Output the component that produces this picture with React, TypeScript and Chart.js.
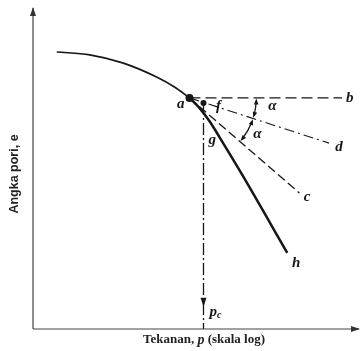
import React, { useEffect, useRef } from "react";
import { Chart, registerables } from "chart.js";

Chart.register(...registerables);

// e - log p curve (x: log pressure, y: void ratio), schematic units 0..100
// upper (recompression) part up to point a, then steeper virgin part to h
const upperX = [7.3, 17.4, 27.5, 37.9, 43.4, 48.0];
const upperY = [86.3, 85.4, 82.9, 78.5, 75.4, 72.0];
const lowerX = [48.0, 51.1, 54.1, 57.2, 64.2, 78.0];
const lowerY = [72.0, 68.8, 64.8, 59.8, 48.0, 23.7];

// construction points
const pointA = { x: 48.0, y: 72.0 };
const pointF = { x: 52.3, y: 70.4 };
const pointB = { x: 94.8, y: 72.0 };
const pointD = { x: 90.8, y: 57.9 };
const pointC = { x: 81.7, y: 42.4 };
const pcX = 52.3;
const pcArrowY = 6.9;
const arcOnAbX = 68.5;

// text labels
const labelText = ["a", "b", "c", "d", "f", "g", "h", "α", "α"];
const labelX = [45.3, 97.2, 84.1, 93.9, 56.9, 55.0, 80.7, 73.4, 68.8];
const labelY = [70.1, 72.0, 41.1, 56.7, 69.5, 58.9, 20.6, 69.5, 60.7];
const pcLabel = { x: 55.7, y: 5.3 };

const xTitleParts = ["Tekanan, ", "p", " (skala log)"];
const yTitle = "Angka pori, e";

const INK = "#161616";

function arrowHead(ctx: CanvasRenderingContext2D, x: number, y: number, angle: number, len: number, wid: number) {
  ctx.save();
  ctx.translate(x, y);
  ctx.rotate(angle);
  ctx.beginPath();
  ctx.moveTo(0, 0);
  ctx.lineTo(-len, -wid / 2);
  ctx.lineTo(-len, wid / 2);
  ctx.closePath();
  ctx.fill();
  ctx.restore();
}

const decor = {
  id: "decor",
  afterDatasetsDraw(chart: any) {
    const ctx: CanvasRenderingContext2D = chart.ctx;
    const xs = chart.scales.x;
    const ys = chart.scales.y;
    const px = (v: number) => xs.getPixelForValue(v);
    const py = (v: number) => ys.getPixelForValue(v);
    ctx.save();
    ctx.fillStyle = INK;
    ctx.strokeStyle = INK;

    // axis arrows
    ctx.fillStyle = "#333";
    arrowHead(ctx, px(100) + 1, py(0), 0, 9, 6);
    arrowHead(ctx, px(0), py(100) - 1, -Math.PI / 2, 9, 6);
    ctx.fillStyle = INK;
    // pc arrow
    arrowHead(ctx, px(pcX), py(pcArrowY), Math.PI / 2, 9, 6);

    // angle arcs
    const ax = px(pointA.x), ay = py(pointA.y);
    const r = px(arcOnAbX) - ax;
    const thD = Math.atan2(py(pointD.y) - ay, px(pointD.x) - ax);
    const thC = Math.atan2(py(pointC.y) - ay, px(pointC.x) - ax);
    ctx.lineWidth = 1.3;
    ctx.setLineDash([]);
    const gap = 0.05;
    ctx.beginPath();
    ctx.arc(ax, ay, r, 0 + gap, thD - gap);
    ctx.stroke();
    ctx.beginPath();
    ctx.arc(ax, ay, r, thD + gap, thC - gap);
    ctx.stroke();
    const tip = (th: number, dir: number) => {
      const x = ax + r * Math.cos(th);
      const y = ay + r * Math.sin(th);
      const ang = th + (dir > 0 ? Math.PI / 2 : -Math.PI / 2);
      arrowHead(ctx, x, y, ang, 6, 4.5);
    };
    tip(0.01, -1);
    tip(thD - 0.01, 1);
    tip(thD + 0.01, -1);
    tip(thC - 0.01, 1);

    // letters
    ctx.textAlign = "center";
    ctx.textBaseline = "middle";
    ctx.font = "italic bold 15px 'Liberation Serif'";
    for (let i = 0; i < labelText.length; i++) {
      ctx.fillText(labelText[i], px(labelX[i]), py(labelY[i]));
    }
    // p_c
    ctx.textAlign = "left";
    ctx.font = "italic bold 15px 'Liberation Serif'";
    const pxp = px(pcLabel.x) - 5;
    ctx.fillText("p", pxp, py(pcLabel.y));
    const wp = ctx.measureText("p").width;
    ctx.font = "italic bold 10px 'Liberation Serif'";
    ctx.fillText("c", pxp + wp, py(pcLabel.y) + 3);

    // x title
    ctx.fillStyle = "#222";
    const fonts = ["bold 13px 'Liberation Serif'", "italic bold 14px 'Liberation Serif'", "bold 13px 'Liberation Serif'"];
    let total = 0;
    const widths: number[] = [];
    xTitleParts.forEach((t, i) => {
      ctx.font = fonts[i];
      const w = ctx.measureText(t).width;
      widths.push(w);
      total += w;
    });
    let cx = 204 - total / 2;
    const ty = py(0) + 11;
    xTitleParts.forEach((t, i) => {
      ctx.font = fonts[i];
      ctx.fillText(t, cx, ty);
      cx += widths[i];
    });

    // y title
    ctx.save();
    ctx.translate(15, 174);
    ctx.rotate(-Math.PI / 2);
    ctx.textAlign = "center";
    ctx.font = "bold 12.5px 'Liberation Sans Narrow', 'Liberation Sans'";
    ctx.fillText(yTitle, 0, 0);
    ctx.restore();

    ctx.restore();
  },
};

export default function App() {
  const ref = useRef<HTMLCanvasElement>(null);
  useEffect(() => {
    if (!ref.current) return;
    const line = (data: { x: number; y: number }[], extra: any) => ({
      data,
      showLine: true,
      pointRadius: 0,
      borderColor: INK,
      borderWidth: 1.3,
      clip: false,
      ...extra,
    });
    const chart = new Chart(ref.current, {
      type: "scatter",
      data: {
        datasets: [
          line([{ x: 0, y: 0 }, { x: 100, y: 0 }], { borderColor: "#444", borderWidth: 1.2 }),
          line([{ x: 0, y: 0 }, { x: 0, y: 100 }], { borderColor: "#444", borderWidth: 1.2 }),
          line(upperX.map((x, i) => ({ x, y: upperY[i] })), { borderWidth: 1.7, cubicInterpolationMode: "monotone" }),
          line(lowerX.map((x, i) => ({ x, y: lowerY[i] })), { borderWidth: 2.5, cubicInterpolationMode: "monotone" }),
          line([pointA, pointB], { borderDash: [11, 5] }),
          line([pointA, pointD], { borderDash: [10, 4, 2, 4], borderWidth: 1.1 }),
          line([pointA, pointC], { borderDash: [9, 4] }),
          line([pointF, { x: pcX, y: 0 }], { borderDash: [12, 3, 2, 3] }),
          {
            data: [pointA, pointF],
            showLine: false,
            pointRadius: [4, 3],
            pointBackgroundColor: INK,
            pointBorderWidth: 0,
            clip: false,
          },
        ],
      },
      options: {
        animation: false,
        responsive: false,
        maintainAspectRatio: false,
        layout: { padding: { left: 33, right: 3, top: 8, bottom: 22 } },
        plugins: { legend: { display: false }, tooltip: { enabled: false } },
        scales: {
          x: { type: "linear", min: 0, max: 100, display: false },
          y: { type: "linear", min: 0, max: 100, display: false },
        },
      },
      plugins: [decor],
    } as any);
    return () => chart.destroy();
  }, []);
  return (
    <div style={{ position: "fixed", left: 0, top: 0, width: 363, height: 351, background: "#fff" }}>
      <canvas ref={ref} width={363} height={351} />
    </div>
  );
}
